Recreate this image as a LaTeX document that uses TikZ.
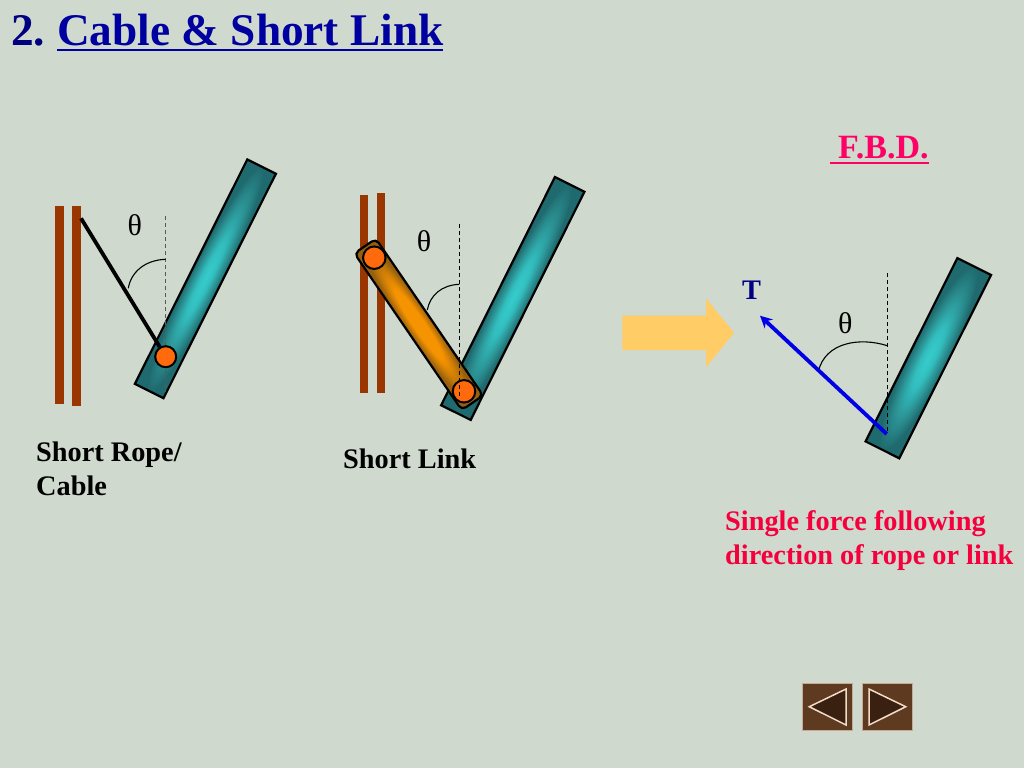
\documentclass[tikz,border=0pt]{standalone}
\usepackage{fontspec}
\usetikzlibrary{arrows.meta}
\setmainfont{Liberation Serif}
\definecolor{bgc}{HTML}{CFD9CE}
\definecolor{wall}{HTML}{9A3600}
\definecolor{pinc}{HTML}{FF6A0D}
\definecolor{beamhi}{HTML}{36CCCC}
\definecolor{beammid}{HTML}{2B9092}
\definecolor{beamlo}{HTML}{1F6A6E}
\definecolor{linkhi}{HTML}{F59300}
\definecolor{linklo}{HTML}{96600F}
\definecolor{arrowy}{HTML}{FFCC66}
\definecolor{navb}{HTML}{5E3A20}
\definecolor{navd}{HTML}{3A2010}
\definecolor{navl}{HTML}{F2DCC6}
\definecolor{titled}{HTML}{000080}
\definecolor{titleb}{HTML}{0000A0}
\definecolor{pinkc}{HTML}{FF0066}
\definecolor{redc}{HTML}{F5003D}
\definecolor{forcec}{HTML}{0000E6}
\pgfdeclareradialshading{beamshade}{\pgfpoint{0bp}{0bp}}{color(0bp)=(beamhi); color(8bp)=(beamhi!85!beamlo); color(17bp)=(beammid); color(25bp)=(beamlo); color(50bp)=(beamlo)}
\pgfdeclareradialshading{linkshade}{\pgfpoint{0bp}{0bp}}{color(0bp)=(linkhi); color(11bp)=(linkhi); color(25bp)=(linklo); color(50bp)=(linklo)}
\tikzset{
  wallbar/.style={fill=wall,draw=none},
  beamrect/.style={shading=beamshade,draw=black,line width=2.2pt,line join=miter},
  linkrect/.style={shading=linkshade,draw=black,line width=2.2pt,rounded corners=5pt},
  pin/.style={circle,fill=pinc,draw=black,line width=2pt,minimum size=21pt,inner sep=0pt},
  guide/.style={dashed,line width=1.1pt,dash pattern=on 4pt off 3pt},
  anglearc/.style={line width=1.1pt},
  thetalab/.style={font=\fontsize{30}{30}\selectfont,inner sep=0pt},
  lab/.style={font=\fontsize{28.3}{34}\selectfont\bfseries,inner sep=0pt,anchor=base west,align=left},
  navbox/.style={fill=navb,draw=navl!70!navb,line width=1pt},
  navtri/.style={fill=navd,draw=navl,line width=1.5pt,line join=miter}
}
\newcommand{\beamat}[6]{\begin{scope}[transform canvas={shift={(#1,#2)},rotate=#3}]
  \path[#6] (-#4/2,-#5/2) rectangle (#4/2,#5/2);\end{scope}}
\begin{document}
\begin{tikzpicture}[x=1pt,y=-1pt]
\useasboundingbox (0,0) rectangle (1024,768);
\fill[bgc] (0,0) rectangle (1024,768);

% title
\node[lab,text=titled,font=\fontsize{45.3}{45}\selectfont\bfseries] (tnum) at (11,45.5) {2.};
\node[lab,text=titleb,font=\fontsize{45.3}{45}\selectfont\bfseries] (ttext) at (57,45.5) {Cable \& Short Link};
\draw[titleb,line width=2.6pt] (57,50) -- (443,50);

% panel 1
\fill[wallbar] (55.3,205.7) rectangle (64,404.3);
\fill[wallbar] (72.3,205.7) rectangle (81,406);
\beamat{205.4}{278.8}{63.4}{251}{32}{beamrect}
\draw[black!65,guide] (165.7,216) -- (165.7,392);
\draw[anglearc] (165.7,259.3) .. controls (145,260) and (131,272) .. (128.3,288.3);
\coordinate (ropetop) at (81,218.3);
\node[pin] (pa) at (165.7,356.7) {};
\draw[black,line width=3.8pt] (ropetop) -- (pa);
\node[thetalab] (tha) at (134.7,225) {θ};
\node[lab] (la) at (36,495) {Short Rope/\\Cable};

% panel 2
\fill[wallbar] (359.7,195) rectangle (368.3,393.3);
\fill[wallbar] (376.7,192.7) rectangle (385,393.3);
\beamat{512.8}{298.5}{63.5}{255}{33}{beamrect}
\begin{scope}[transform canvas={shift={(418.8,324.4)},rotate=-55.6}]
  \path[linkrect] (-95,-13) rectangle (95,13);
\end{scope}
\node[pin,minimum size=22.5pt] (pb) at (374.3,257.7) {};
\node[pin,minimum size=22.5pt] (pc) at (464,391.3) {};
\draw[black,guide] (459.3,224) -- (459.3,398);
\draw[anglearc] (459.3,284.3) .. controls (442,285) and (430,295) .. (427.3,310);
\node[thetalab] (thb) at (424,241) {θ};
\node[lab] (lb) at (343,468) {Short Link};

% big arrow
\fill[arrowy] (622.3,315.7) -- (706,315.7) -- (706,298.3) -- (734,332.7) -- (706,367.3) -- (706,350) -- (622.3,350) -- cycle;

% panel 3
\beamat{928.3}{358.2}{63.4}{205}{37.7}{beamrect}
\coordinate (fbase) at (886.7,434);
\coordinate (ftip) at (760,315.7);
\draw[black,guide] (887.3,273.3) -- (887.3,434);
\draw[anglearc] (887.3,345.7) .. controls (860,337) and (825,342) .. (818.3,371.7);
\draw[forcec,line width=3.8pt,-{Stealth[length=12pt,width=12pt]}] (fbase) -- (ftip);
\node[thetalab] (thc) at (845.3,322.7) {θ};
\node[lab,text=titled,font=\fontsize{28.3}{28}\selectfont\bfseries] (tf) at (742,299) {T};
\node[lab,text=pinkc,font=\fontsize{34}{34}\selectfont\bfseries] (fbd) at (838,158) {F.B.D.};
\draw[pinkc,line width=2.2pt] (830,163) -- (929,163);
\node[lab,text=redc] (ld) at (725,564) {Single force following\\direction of rope or link};

% nav buttons
\draw[navbox] (802.7,683.3) rectangle (852.7,730.7);
\draw[navbox] (862.3,683.3) rectangle (912.3,730.7);
\draw[navtri] (809.3,706.7) -- (846,689) -- (846,725) -- cycle;
\draw[navtri] (869,689) -- (905.7,706.7) -- (869,725) -- cycle;
\end{tikzpicture}
\end{document}
